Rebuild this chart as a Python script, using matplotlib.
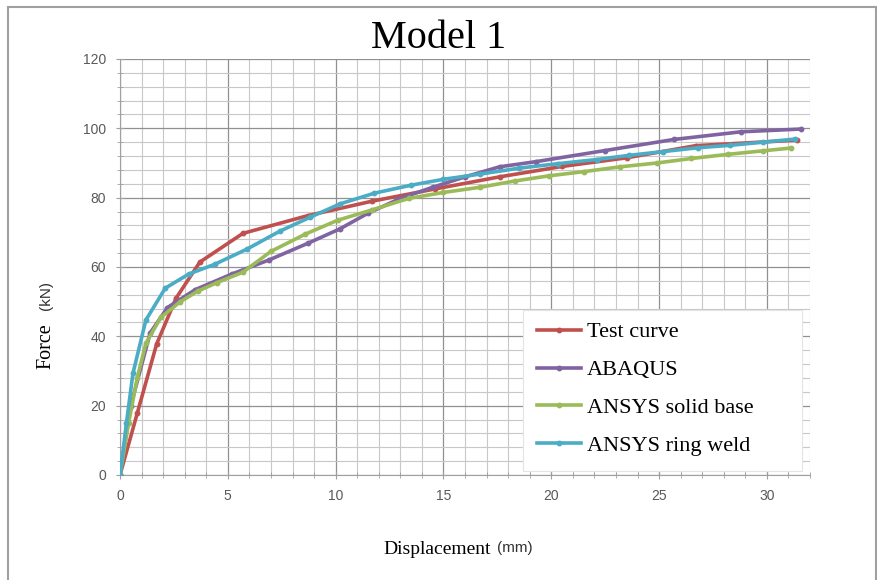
import matplotlib
matplotlib.use("Agg")
import matplotlib.pyplot as plt
from matplotlib.patches import Rectangle
from matplotlib.ticker import MultipleLocator

# data (displacement mm, force kN)
test_x = [0, 0.8, 1.7, 2.6, 3.7, 5.7, 8.7, 11.7, 14.6, 17.6, 20.5, 23.5, 26.7, 31.4]
test_y = [0, 17.8, 37.8, 51.0, 61.4, 69.7, 74.8, 79.0, 82.5, 86.0, 89.0, 91.5, 95.0, 96.6]

abaqus_x = [0, 0.5, 1.4, 2.2, 3.5, 5.2, 6.9, 8.7, 10.2, 11.5, 13.0, 14.5, 16.0, 17.6, 19.3, 22.5, 25.7, 28.8, 31.6]
abaqus_y = [0, 20, 41, 48.3, 53.5, 58, 62, 66.8, 71, 75.5, 79.8, 83, 86, 88.9, 90.4, 93.6, 96.8, 99, 99.8]

solid_x = [0, 0.4, 0.8, 1.2, 1.9, 2.8, 3.6, 4.5, 5.7, 7.0, 8.6, 10.1, 11.7, 13.4, 15.0, 16.7,
           18.3, 19.9, 21.5, 23.2, 24.9, 26.5, 28.2, 29.8, 31.1]
solid_y = [0, 15, 28, 38, 45.5, 50, 53, 55.5, 58.5, 64.5, 69.5, 73.5, 76.5, 79.8, 81.5, 83,
           84.8, 86.3, 87.5, 88.9, 90, 91.3, 92.5, 93.5, 94.3]

ring_x = [0, 0.3, 0.6, 1.2, 2.1, 3.2, 4.4, 5.9, 7.4, 8.8, 10.2, 11.8, 13.5, 15.0, 16.7, 18.5,
          20.3, 22.1, 23.6, 25.2, 26.8, 28.3, 29.8, 31.3]
ring_y = [0, 15, 29.3, 44.7, 53.9, 58, 60.8, 65.2, 70.3, 74.3, 78.2, 81.3, 83.6, 85.3, 86.8, 88.5,
          89.8, 91, 92.2, 93.3, 94.4, 95.1, 96, 96.9]

W, H = 877, 580
fig = plt.figure(figsize=(W / 100, H / 100), dpi=100)
ax = fig.add_axes([120 / W, 1 - 475 / H, 690 / W, 416 / H])

# outer chart frame
fig.patches.append(Rectangle((8 / W, -0.01), 1 - 9 / W, 1 - 7 / H + 0.01,
                             transform=fig.transFigure, fill=False,
                             edgecolor="#a0a0a0", linewidth=1.5))

series = [
    (test_x, test_y, "#C0504D", "Test curve"),
    (abaqus_x, abaqus_y, "#8064A2", "ABAQUS"),
    (solid_x, solid_y, "#9BBB59", "ANSYS solid base"),
    (ring_x, ring_y, "#4BACC6", "ANSYS ring weld"),
]
for xs, ys, c, lab in series:
    ax.plot(xs, ys, color=c, linewidth=2.6, marker="o", markersize=3.2, label=lab, zorder=3)

ax.set_xlim(0, 32)
ax.set_ylim(0, 120)
ax.xaxis.set_major_locator(MultipleLocator(5))
ax.xaxis.set_minor_locator(MultipleLocator(1))
ax.yaxis.set_major_locator(MultipleLocator(20))
ax.yaxis.set_minor_locator(MultipleLocator(4))
ax.grid(which="major", color="#909090", linewidth=0.9)
ax.grid(which="minor", color="#c8c8c8", linewidth=0.8)
ax.set_axisbelow(True)

for s in ["top", "right"]:
    ax.spines[s].set_visible(False)
for s in ["left", "bottom"]:
    ax.spines[s].set_color("#a0a0a0")

ax.tick_params(which="both", colors="#a0a0a0", labelcolor="#595959", labelsize=10)
ax.tick_params(which="major", direction="inout", length=6, pad=7)
ax.tick_params(which="minor", direction="inout", length=4)
for t in ax.get_xticklabels() + ax.get_yticklabels():
    t.set_fontfamily("Liberation Sans")

# white legend box, wider than its entries like the Excel one
box = Rectangle((523 / W, 1 - 471 / H), 279 / W, 161 / H, transform=fig.transFigure,
                facecolor="white", edgecolor="#e4e4e4", linewidth=0.8, zorder=4)
ax.add_artist(box)
box.set_clip_on(False)

leg = ax.legend(loc="center left", bbox_to_anchor=(537 / W, 1 - 389 / H),
                bbox_transform=fig.transFigure,
                prop={"family": "Liberation Serif", "size": 16},
                frameon=False, handlelength=2.0, handletextpad=0.25,
                labelspacing=0.78, borderpad=0.0, borderaxespad=0.0)
leg.set_zorder(5)

fig.text(439 / W, 1 - 38 / H, "Model 1", fontsize=29, family="Liberation Serif",
         ha="center", va="center")

# axis titles (serif word + sans unit, as in the original)
fig.text(437 / W, 1 - 550 / H, "Displacement", fontsize=14, family="Liberation Serif",
         ha="center", va="center")
fig.text(515 / W, 1 - 548 / H, "(mm)", fontsize=11, family="Liberation Sans",
         ha="center", va="center", color="#333333")
fig.text(46 / W, 1 - 346 / H, "Force", fontsize=14.5, family="Liberation Serif",
         ha="center", va="center", rotation=90)
fig.text(46 / W, 1 - 295 / H, "(kN)", fontsize=11, family="Liberation Sans",
         ha="center", va="center", rotation=90, color="#333333")

fig.savefig("out.png", dpi=100)
